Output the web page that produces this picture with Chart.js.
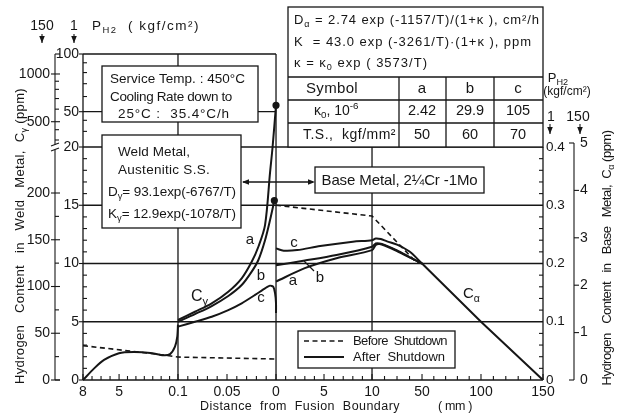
<!DOCTYPE html>
<html>
<head>
<meta charset="utf-8">
<script src="https://cdn.jsdelivr.net/npm/chart.js@4.4.1/dist/chart.umd.min.js"></script>
<style>
  html, body { margin: 0; padding: 0; background: #fff; }
  canvas { display: block; }
</style>
</head>
<body>
<canvas id="chart" width="621" height="416"></canvas>
<script>
// ==================== data ====================
// distance from fusion boundary, mm; weld metal side is negative
// weld metal curves use the inner left axis, base metal curves the inner right axis

// weld metal, before shutdown (dashed)
const weldBeforeX = [-8, -1.3, -0.1, 0];
const weldBeforeY = [2.95, 2.15, 1.97, 1.8];

// weld metal, after shutdown, common part up to 0.1 mm
const weldAfterX = [-8, -7.07, -6.25, -5.01, -3.78, -2.4, -1.31, -0.76, -0.35, -0.16, -0.1];
const weldAfterY = [0, 1.0, 1.72, 2.3, 2.4, 2.32, 2.12, 2.22, 2.86, 3.72, 4.75];

// weld metal, after shutdown, curves a / b / c
const weldAX = [-0.1, -0.0827, -0.0656, -0.0487, -0.035, -0.0248, -0.018, -0.0112, -0.0061, -0.0035, 0];
const weldAY = [5.15, 5.86, 6.58, 7.58, 8.73, 10.15, 11.44, 13.3, 17.8, 20, 54];
const weldBX = [-0.1, -0.0827, -0.0656, -0.0487, -0.035, -0.0248, -0.018, -0.0112, -0.0061, -0.0017];
const weldBY = [5.0, 5.66, 6.35, 7.21, 8.15, 9.3, 10.3, 12.0, 13.73, 15.4];
const weldCX = [-0.1, -0.0827, -0.0656, -0.0487, -0.035, -0.0214, -0.0112, -0.0061, -0.0028, -0.001, 0, 0];
const weldCY = [4.58, 5.0, 5.43, 6.0, 6.58, 7.3, 7.87, 8.1, 8.0, 7.47, 6.6, 5.75];

// base metal, before shutdown (dashed)
const baseBeforeX = [0, 10, 45, 50];
const baseBeforeY = [0.300, 0.2815, 0.203, 0.2];

// base metal, after shutdown, curves a / b / c
const baseABX = [0, 3, 6.3, 10, 13, 16, 20, 30, 40, 50];
const baseAY = [0.169, 0.192, 0.209, 0.223, 0.232, 0.2335, 0.231, 0.2215, 0.2105, 0.2];
const baseBY = [0.197, 0.205, 0.2146, 0.2288, 0.2345, 0.2345, 0.232, 0.2225, 0.211, 0.2];
const baseCX = [0, 0.8, 2.2, 4.6, 8, 10, 13, 17, 22, 30, 40, 50];
const baseCY = [0.226, 0.222, 0.223, 0.230, 0.2375, 0.240, 0.243, 0.242, 0.238, 0.2325, 0.2205, 0.2];

// C alpha, all curves together
const cAlphaX = [50, 100, 150];
const cAlphaY = [0.2, 0.1, 0];

// ==================== axes ====================
const xTicks = [-8, -5, -0.1, -0.05, 0, 5, 10, 50, 100, 150];
const xTickLabels = ['8', '5', '0.1', '0.05', '0', '5', '10', '50', '100', '150'];
const xMinorSteps = [4, 7, 5, 5, 5, 5, 4, 5, 5];   // subdivisions between the labelled ticks
const yTicks = [0, 5, 10, 15, 20, 50, 100];
const yMinor = [1, 2, 3, 4, 6, 7, 8, 9, 11, 12, 13, 14, 16, 17, 18, 19, 30, 40, 60, 70, 80, 90];
const y2Ticks = [0, 0.1, 0.2, 0.3, 0.4];
const gammaTicks = [0, 50, 100, 150, 200, 500, 1000];       // C gamma, ppm
const gammaMinor = [25, 75, 125, 175, 300, 400, 600, 700, 800, 900];
const alphaTicks = [0, 1, 2, 3, 4, 5];                       // C alpha, ppm

// piecewise axes: [value, fraction of axis, 'log' if the segment ending here is logarithmic]
const xBreaks = [[-8, 0], [-0.1, 0.2065], [0, 0.4196], [10, 0.6283], [50, 0.737], [100, 0.8652], [150, 1]];
const yBreaks = [[0, 0], [20, 0.7147], [50, 0.823, 'log'], [100, 1, 'log']];
const gammaBreaks = [[0, 0], [200, 0.5736], [300, 0.7362], [500, 0.7923, 'log'], [1000, 0.9387, 'log'], [1318, 1, 'log']];

const INK = '#161616';
const FONT = '"Liberation Sans", Arial, sans-serif';

// ==================== piecewise scale ====================
class PiecewiseScale extends Chart.Scale {
  static id = 'piecewise';
  static defaults = {};

  determineDataLimits() {
    const b = this.options.breaks;
    this.min = b[0][0];
    this.max = b[b.length - 1][0];
  }

  buildTicks() {
    return this.options.breaks.map(b => ({ value: b[0] }));
  }

  getLabelForValue(v) {
    return String(v);
  }

  valueToDecimal(v) {
    const b = this.options.breaks;
    let i = 1;
    while (i < b.length - 1 && v > b[i][0]) i++;
    const [v0, f0] = b[i - 1];
    const [v1, f1, mode] = b[i];
    const t = mode === 'log' ? Math.log(v / v0) / Math.log(v1 / v0) : (v - v0) / (v1 - v0);
    return f0 + t * (f1 - f0);
  }

  getPixelForValue(v) {
    return this.getPixelForDecimal(this.valueToDecimal(v));
  }

  getValueForPixel(p) {
    const d = this.getDecimalForPixel(p);
    const b = this.options.breaks;
    let i = 1;
    while (i < b.length - 1 && d > b[i][1]) i++;
    const [v0, f0] = b[i - 1];
    const [v1, f1, mode] = b[i];
    const t = (d - f0) / (f1 - f0);
    return mode === 'log' ? v0 * Math.pow(v1 / v0, t) : v0 + t * (v1 - v0);
  }
}
Chart.register(PiecewiseScale);

// ==================== drawing helpers ====================
function setFont(ctx, size) {
  ctx.font = `${size}px ${FONT}`;
}

// parts: strings or [text, 'sub' | 'sup']
function drawRich(ctx, parts, x, y, size, align = 'left', width = null) {
  const segs = parts.map(p => (typeof p === 'string' ? [p, null] : p));
  const sz = s => (s[1] ? size * 0.7 : size);
  ctx.letterSpacing = '0px';
  let w = 0, n = 0;
  segs.forEach(s => { setFont(ctx, sz(s)); w += ctx.measureText(s[0]).width; n += s[0].length; });
  let spacing = 0;
  if (width) {
    spacing = (width - w) / n;
    w = width;
  }
  ctx.letterSpacing = spacing + 'px';
  let cx = align === 'center' ? x - w / 2 : align === 'right' ? x - w : x;
  ctx.textAlign = 'left';
  ctx.textBaseline = 'middle';
  segs.forEach(s => {
    setFont(ctx, sz(s));
    const dy = s[1] === 'sub' ? size * 0.32 : s[1] === 'sup' ? -size * 0.35 : 0;
    ctx.fillText(s[0], cx, y + dy);
    cx += ctx.measureText(s[0]).width;
  });
  ctx.letterSpacing = '0px';
}

function text(ctx, str, x, y, size, align = 'center') {
  setFont(ctx, size);
  ctx.textAlign = align;
  ctx.textBaseline = 'middle';
  ctx.fillText(str, x, y);
}

function seg(ctx, x1, y1, x2, y2) {
  ctx.beginPath();
  ctx.moveTo(x1, y1);
  ctx.lineTo(x2, y2);
  ctx.stroke();
}

function box(ctx, x, y, w, h) {
  ctx.fillStyle = '#fff';
  ctx.fillRect(x, y, w, h);
  ctx.strokeRect(x, y, w, h);
  ctx.fillStyle = INK;
}

function arrowHead(ctx, x, y, dx, dy) {
  const len = 7, half = 2.8;
  ctx.beginPath();
  ctx.moveTo(x, y);
  ctx.lineTo(x - dx * len - dy * half, y - dy * len + dx * half);
  ctx.lineTo(x - dx * len + dy * half, y - dy * len - dx * half);
  ctx.closePath();
  ctx.fill();
}

function downArrow(ctx, x, y1, y2) {
  seg(ctx, x, y1, x, y2);
  arrowHead(ctx, x, y2, 0, 1);
}

// ==================== plot frame, grid and axes ====================
function drawFrame(chart) {
  const ctx = chart.ctx, s = chart.scales;
  const X = v => s.x.getPixelForValue(v);
  const Y = v => s.y.getPixelForValue(v);
  const Y2 = v => s.y2.getPixelForValue(v);
  const L = X(-8), R = X(150), Z = X(0), B = Y(0), T = Y(100), M = Y(20);

  ctx.save();
  ctx.strokeStyle = INK;
  ctx.fillStyle = INK;
  ctx.lineWidth = 1.3;

  // grid and frame
  [5, 10, 15, 20].forEach(v => seg(ctx, L, Y(v), R, Y(v)));
  seg(ctx, L, Y(50), Z, Y(50));
  seg(ctx, L, T, Z, T);
  seg(ctx, L, B, R, B);
  seg(ctx, L, T, L, B);
  seg(ctx, Z, T, Z, B);
  seg(ctx, X(-0.1), T, X(-0.1), B);
  seg(ctx, X(10), M, X(10), B);
  seg(ctx, R, M, R, B);

  // x ticks
  ctx.lineWidth = 1.1;
  for (let i = 0; i < xTicks.length - 1; i++) {
    const a = xTicks[i], b = xTicks[i + 1], n = xMinorSteps[i];
    for (let k = 1; k < n; k++) seg(ctx, X(a + (b - a) * k / n), B, X(a + (b - a) * k / n), B - 4);
  }
  xTicks.forEach(v => seg(ctx, X(v), B, X(v), B - 6));
  xTicks.forEach((v, i) => text(ctx, xTickLabels[i], X(v), B + 12, 14));

  // inner left axis (weld metal, C gamma scale in units of the plot)
  yMinor.forEach(v => seg(ctx, L, Y(v), L + 4, Y(v)));
  yTicks.forEach(v => {
    seg(ctx, L - 4, Y(v), L, Y(v));
    text(ctx, String(v), L - 4, Y(v), 14, 'right');
  });

  // inner right axis (base metal)
  for (let v = 0.02; v < 0.4; v += 0.02) {
    if (Math.abs(v * 10 - Math.round(v * 10)) > 1e-6) seg(ctx, R - 4, Y2(v), R, Y2(v));
  }
  y2Ticks.forEach(v => text(ctx, String(v), R + 3, Y2(v), 13.5, 'left'));

  // outer left axis: C gamma, ppm
  const G = v => s.yGamma.getPixelForValue(v);
  const gx = 55, brk = M;
  seg(ctx, gx, T, gx, brk - 2.5);
  seg(ctx, gx, brk + 2.5, gx, B);
  seg(ctx, gx - 4, brk - 1, gx + 4, brk - 4);
  seg(ctx, gx - 4, brk + 4, gx + 4, brk + 1);
  seg(ctx, gx, T, gx + 5, T);
  seg(ctx, gx, B, gx + 5, B);
  gammaMinor.forEach(v => seg(ctx, gx, G(v), gx + 4, G(v)));
  gammaTicks.forEach(v => {
    seg(ctx, gx - 4, G(v), gx + 5, G(v));
    text(ctx, String(v), gx - 5, G(v), 14, 'right');
  });

  // outer right axis: C alpha, ppm
  const A = v => s.yAlpha.getPixelForValue(v);
  const ax = 574;
  seg(ctx, ax, A(5), ax, A(0));
  alphaTicks.forEach(v => {
    if (v === 0 || v === 5) seg(ctx, ax - 5, A(v), ax, A(v));
    else seg(ctx, ax, A(v), ax + 5, A(v));
    text(ctx, String(v), ax + 6, A(v), 14, 'left');
  });

  ctx.restore();
}

// ==================== boxes, table, legend and labels ====================
function drawNotes(chart) {
  const ctx = chart.ctx;
  ctx.save();
  ctx.strokeStyle = INK;
  ctx.fillStyle = INK;
  ctx.lineWidth = 1.3;

  // service box
  box(ctx, 102, 66, 156, 56);
  drawRich(ctx, ['Service Temp. : 450°C'], 110, 79, 13.5, 'left', 135);
  drawRich(ctx, ['Cooling Rate down to'], 110, 97, 13.5, 'left', 122);
  drawRich(ctx, ['25°C :  35.4°C/h'], 118, 114, 13.5, 'left', 112);

  // weld metal box
  box(ctx, 102, 135, 139, 93);
  drawRich(ctx, ['Weld Metal,'], 118, 152, 13.5, 'left', 72);
  drawRich(ctx, ['Austenitic S.S.'], 118, 170, 13.5, 'left', 92);
  drawRich(ctx, ['D', ['γ', 'sub'], '= 93.1exp(-6767/T)'], 108, 192, 13.5, 'left', 128);
  drawRich(ctx, ['K', ['γ', 'sub'], '= 12.9exp(-1078/T)'], 108, 214, 13.5, 'left', 128);

  // base metal box and double arrow
  box(ctx, 315, 167, 169, 26);
  drawRich(ctx, ['Base Metal, 2¼Cr -1Mo'], 399.5, 181, 15, 'center', 156);
  seg(ctx, 243, 182, 313, 182);
  arrowHead(ctx, 242, 182, -1, 0);
  arrowHead(ctx, 315, 182, 1, 0);

  // table
  box(ctx, 288, 7, 255, 140);
  drawRich(ctx, ['D', ['α', 'sub'], ' = 2.74 exp (-1157/T)/(1+κ ), cm²/h'], 294, 20, 13, 'left', 246);
  drawRich(ctx, ['K  = 43.0 exp (-3261/T)·(1+κ ), ppm'], 294, 42, 13, 'left', 238);
  drawRich(ctx, ['κ = κ', ['0', 'sub'], ' exp ( 3573/T)'], 294, 63, 13, 'left', 134);
  [77, 100, 123].forEach(y => seg(ctx, 288, y, 543, y));
  [399, 446, 494].forEach(x => seg(ctx, x, 77, x, 147));
  drawRich(ctx, ['Symbol'], 306, 89, 15, 'left', 52);
  drawRich(ctx, ['κ', ['0', 'sub'], ', 10', ['-6', 'sup']], 314, 111, 14, 'left');
  drawRich(ctx, ['T.S.,  kgf/mm²'], 303, 135, 14, 'left', 93);
  const colX = [422, 470, 518];
  ['a', 'b', 'c'].forEach((t, i) => text(ctx, t, colX[i], 89, 15));
  ['2.42', '29.9', '105'].forEach((t, i) => text(ctx, t, colX[i], 111, 14.5));
  ['50', '60', '70'].forEach((t, i) => text(ctx, t, colX[i], 135, 14.5));

  // legend
  box(ctx, 298, 331, 157, 37);
  ctx.lineWidth = 1.6;
  ctx.setLineDash([5, 3.5]);
  seg(ctx, 304, 341, 344, 341);
  ctx.setLineDash([]);
  ctx.lineWidth = 2;
  seg(ctx, 304, 357, 344, 357);
  ctx.lineWidth = 1.3;
  drawRich(ctx, ['Before  Shutdown'], 353, 341, 13, 'left', 94);
  drawRich(ctx, ['After  Shutdown'], 353, 357, 13, 'left', 92);

  // curve labels
  text(ctx, 'a', 250, 240, 15);
  text(ctx, 'b', 261, 276, 15);
  text(ctx, 'c', 261, 298, 15);
  text(ctx, 'c', 294, 243, 15);
  text(ctx, 'a', 293, 281, 15);
  text(ctx, 'b', 320, 278, 15);
  ctx.lineWidth = 1.2;
  seg(ctx, 304, 261, 314, 271);
  drawRich(ctx, ['C', ['γ', 'sub']], 191, 297, 16);
  drawRich(ctx, ['C', ['α', 'sub']], 463, 294, 15);

  // pressure markers, top left
  text(ctx, '150', 42, 26, 14);
  text(ctx, '1', 74, 26, 14);
  ctx.lineWidth = 1.1;
  downArrow(ctx, 42, 34, 43);
  downArrow(ctx, 74, 34, 43);
  drawRich(ctx, ['P', ['H2', 'sub'], '  ( kgf/cm²)'], 92, 26, 13.5, 'left', 108);

  // pressure markers, top right
  drawRich(ctx, ['P', ['H2', 'sub']], 558, 78, 13, 'center');
  drawRich(ctx, ['(kgf/cm²)'], 567, 92, 12, 'center');
  text(ctx, '1', 551, 117, 14);
  text(ctx, '150', 578, 117, 14);
  downArrow(ctx, 550, 124, 134);
  downArrow(ctx, 580, 124, 134);

  // axis titles
  drawRich(ctx, ['Distance  from  Fusion  Boundary'], 300, 407, 12.5, 'center', 200);
  drawRich(ctx, ['( mm )'], 455, 407, 12.5, 'center', 34);

  ctx.save();
  ctx.translate(20, 236);
  ctx.rotate(-Math.PI / 2);
  drawRich(ctx, ['Hydrogen   Content   in   Weld   Metal,  C', ['γ', 'sub'], ' (ppm)'], 0, 0, 13, 'center', 296);
  ctx.restore();

  ctx.save();
  ctx.translate(607, 258);
  ctx.rotate(-Math.PI / 2);
  drawRich(ctx, ['Hydrogen   Content   in   Base   Metal,  C', ['α', 'sub'], ' (ppm)'], 0, 0, 13, 'center', 255);
  ctx.restore();

  ctx.restore();
}

const paperPlugin = {
  id: 'paper',
  beforeDraw(chart) {
    const ctx = chart.ctx;
    ctx.save();
    ctx.fillStyle = '#fff';
    ctx.fillRect(0, 0, chart.width, chart.height);
    ctx.restore();
  },
  beforeDatasetsDraw(chart) {
    drawFrame(chart);
  },
  afterDatasetsDraw(chart) {
    drawNotes(chart);
  }
};

// ==================== datasets ====================
const pts = (xs, ys) => xs.map((x, i) => ({ x, y: ys[i] }));

function curve(xs, ys, axis, opts = {}) {
  return Object.assign({
    data: pts(xs, ys),
    yAxisID: axis,
    showLine: true,
    borderColor: INK,
    backgroundColor: INK,
    borderWidth: 2,
    pointRadius: 0,
    tension: 0.3,
    fill: false
  }, opts);
}

const dashed = { borderDash: [5, 3.5], borderWidth: 1.6, tension: 0 };
const endDot = n => ({ pointRadius: c => (c.dataIndex === n - 1 ? 2.6 : 0) });

new Chart(document.getElementById('chart'), {
  type: 'scatter',
  data: {
    datasets: [
      curve(weldBeforeX, weldBeforeY, 'y', dashed),
      curve(weldAfterX, weldAfterY, 'y', { tension: 0.25 }),
      curve(weldAX, weldAY, 'y', endDot(weldAX.length)),
      curve(weldBX, weldBY, 'y', endDot(weldBX.length)),
      curve(weldCX, weldCY, 'y', { tension: 0.2 }),
      curve(baseBeforeX, baseBeforeY, 'y2', dashed),
      curve(baseABX, baseAY, 'y2'),
      curve(baseABX, baseBY, 'y2'),
      curve(baseCX, baseCY, 'y2'),
      curve(cAlphaX, cAlphaY, 'y2', { tension: 0 })
    ]
  },
  options: {
    responsive: false,
    animation: false,
    events: [],
    layout: { autoPadding: false, padding: { left: 83, right: 78, top: 54, bottom: 36 } },
    plugins: { legend: { display: false }, tooltip: { enabled: false } },
    scales: {
      x: { type: 'piecewise', axis: 'x', display: false, breaks: xBreaks },
      y: { type: 'piecewise', axis: 'y', display: false, breaks: yBreaks },
      y2: { type: 'linear', axis: 'y', display: false, min: 0, max: 0.4 / 0.7147 },
      yGamma: { type: 'piecewise', axis: 'y', display: false, breaks: gammaBreaks },
      yAlpha: { type: 'linear', axis: 'y', display: false, min: 0, max: 5 / 0.727 }
    }
  },
  plugins: [paperPlugin]
});
</script>
</body>
</html>
